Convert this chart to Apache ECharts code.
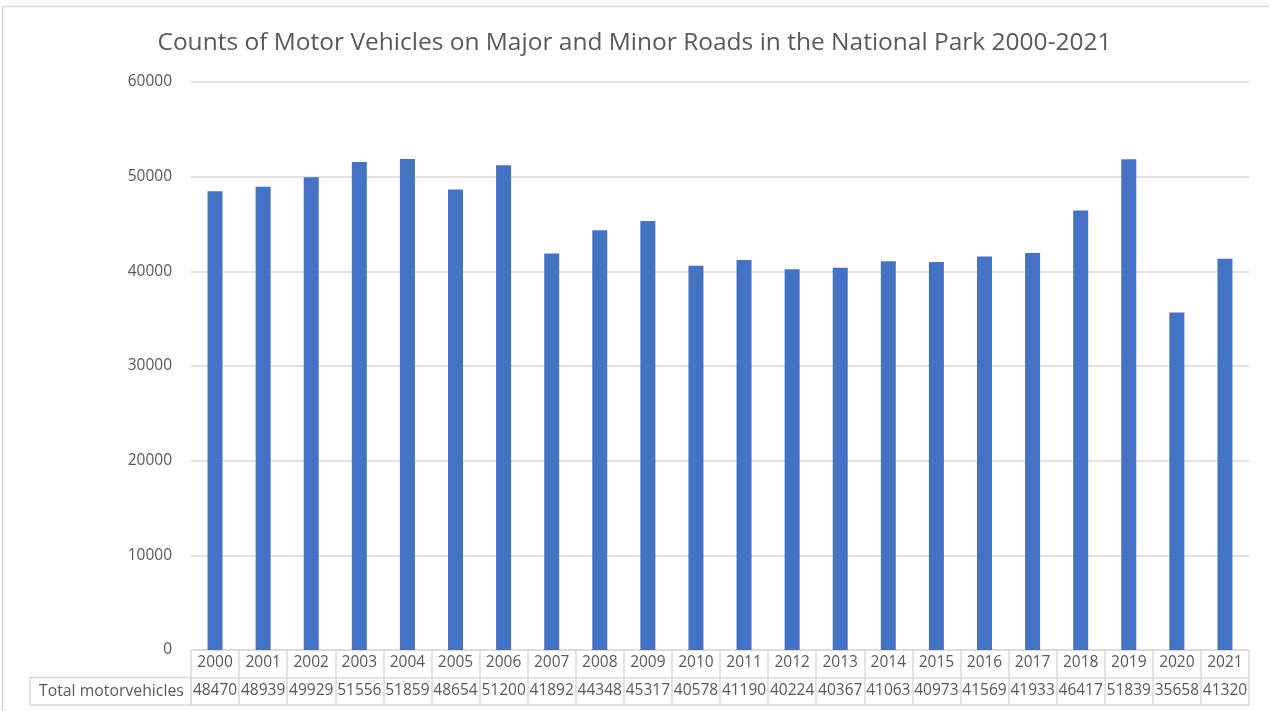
<!DOCTYPE html>
<html>
<head>
<meta charset="utf-8">
<style>
  html, body { margin: 0; padding: 0; background: #fff; }
  #chart { width: 1269px; height: 711px; }
</style>
<script src="https://cdn.jsdelivr.net/npm/echarts@6/dist/echarts.min.js"></script>
</head>
<body>
<div id="chart"></div>
<script>
// Annual counts of motor vehicles, 2000-2021
const years = ['2000','2001','2002','2003','2004','2005','2006','2007','2008','2009','2010',
               '2011','2012','2013','2014','2015','2016','2017','2018','2019','2020','2021'];
const totalMotorVehicles = [48470, 48939, 49929, 51556, 51859, 48654, 51200, 41892, 44348, 45317, 40578,
                            41190, 40224, 40367, 41063, 40973, 41569, 41933, 46417, 51839, 35658, 41320];
const seriesName = 'Total motorvehicles';
const titleText = 'Counts of Motor Vehicles on Major and Minor Roads in the National Park 2000-2021';

const FONT = '"Open Sans", "Liberation Sans", sans-serif';
const TEXT = '#595959';
const LINE = '#d9d9d9';

const chart = echarts.init(document.getElementById('chart'));

// grid geometry (pixels)
const G = { left: 191, right: 20, top: 82, bottom: 61 };
const rowH = 27.5;

chart.setOption({
  animation: false,
  backgroundColor: '#fff',
  title: {
    text: titleText,
    left: 'center',
    top: 26,
    textStyle: { fontFamily: FONT, fontSize: 24.5, fontWeight: 'normal', color: TEXT }
  },
  grid: { left: G.left, right: G.right, top: G.top, bottom: G.bottom },
  xAxis: [
    { // year row of the data table
      type: 'category', data: years, position: 'bottom',
      axisLine: { show: true, lineStyle: { color: LINE, width: 1.5 } },
      axisTick: { show: true, interval: 0, length: rowH * 2, lineStyle: { color: LINE, width: 1.5 } },
      axisLabel: { interval: 0, margin: 5, fontFamily: FONT, fontSize: 15.5, color: TEXT }
    },
    { // value row of the data table
      type: 'category', data: totalMotorVehicles.map(String), position: 'bottom', offset: rowH,
      axisLine: { show: true, lineStyle: { color: LINE, width: 1.5 } },
      axisTick: { show: false },
      axisLabel: { interval: 0, margin: 5, fontFamily: FONT, fontSize: 15.5, color: TEXT }
    },
    { // bottom edge of the table
      type: 'category', data: years, position: 'bottom', offset: rowH * 2,
      axisLine: { show: true, lineStyle: { color: LINE, width: 1.5 } },
      axisTick: { show: false }, axisLabel: { show: false }
    }
  ],
  yAxis: {
    type: 'value', min: 0, max: 60000, interval: 10000,
    axisLine: { show: false }, axisTick: { show: false },
    axisLabel: { margin: 19, fontFamily: FONT, fontSize: 15.5, color: TEXT, formatter: v => String(v) },
    splitLine: { lineStyle: { color: LINE, width: 1.5 } }
  },
  series: [{
    name: seriesName,
    type: 'bar',
    xAxisIndex: 0,
    data: totalMotorVehicles,
    barWidth: 15,
    itemStyle: { color: '#4472C4' }
  }],
  graphic: [
    { // chart frame (top-left corner visible)
      type: 'polyline', silent: true,
      shape: { points: [[2.5, 711], [2.5, 6.5], [1269, 6.5]] },
      style: { fill: null, stroke: LINE, lineWidth: 1.5 }
    },
    { // series name cell of the data table
      type: 'rect', silent: true,
      shape: { x: 30, y: 711 - G.bottom + rowH, width: G.left - 30, height: rowH },
      style: { fill: null, stroke: LINE, lineWidth: 1.5 }
    },
    {
      type: 'text', silent: true,
      x: 39, y: 711 - G.bottom + rowH * 1.5,
      style: { text: seriesName, fontFamily: FONT, fontSize: 15.8, fill: TEXT, verticalAlign: 'middle' }
    }
  ]
});
</script>
</body>
</html>
